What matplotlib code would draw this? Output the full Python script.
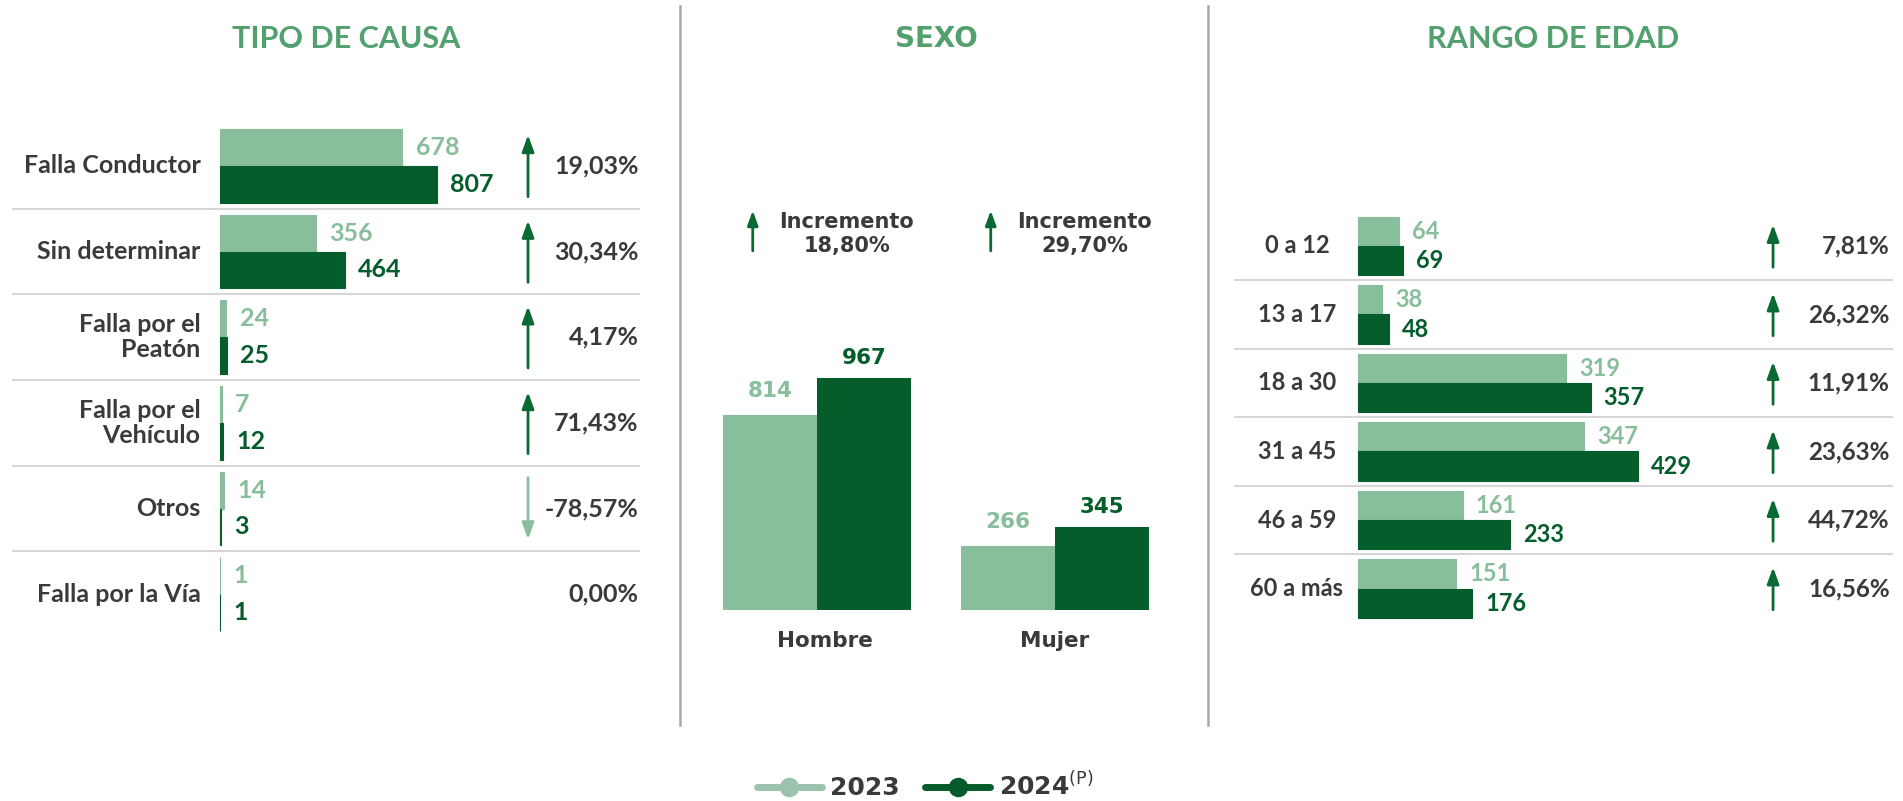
import matplotlib
matplotlib.use("Agg")
import matplotlib.pyplot as plt
import matplotlib.transforms as mtransforms
from matplotlib.lines import Line2D
import numpy as np

# ---- data ----
causa_labels = ["Falla Conductor", "Sin determinar", "Falla por el\nPeatón",
                "Falla por el\nVehículo", "Otros", "Falla por la Vía"]
causa_2023 = [678, 356, 24, 7, 14, 1]
causa_2024 = [807, 464, 25, 12, 3, 1]

sexo_labels = ["Hombre", "Mujer"]
sexo_2023 = [814, 266]
sexo_2024 = [967, 345]

edad_labels = ["0 a 12", "13 a 17", "18 a 30", "31 a 45", "46 a 59", "60 a más"]
edad_2023 = [64, 38, 319, 347, 161, 151]
edad_2024 = [69, 48, 357, 429, 233, 176]

series_names = ["2023", "2024$^{\\mathrm{(P)}}$"]
panel_titles = ["TIPO DE CAUSA", "SEXO", "RANGO DE EDAD"]

# ---- style ----
LIGHT = "#89be9c"
DARK = "#055d2c"
ARROW = "#0b6a33"
TITLE = "#52a06e"
GREY = "#3a3a3a"
SEP = "#d6d6d6"
PANEL_SEP = "#a9a9a9"

plt.rcParams["font.family"] = ["Lato", "DejaVu Sans"]

W, H = 1903, 801
fig = plt.figure(figsize=(W / 100, H / 100), dpi=100)


def box(x0, y0, x1, y1):
    # pixel box measured from top-left -> figure fraction rect
    return [x0 / W, 1 - y1 / H, (x1 - x0) / W, (y1 - y0) / H]


def pct(a, b):
    return (b - a) / a * 100


def fmt_pct(v):
    return f"{v:.2f}%".replace(".", ",")


def up_down_arrow(ax, trans, x, yc, half, p, scale=18, flipped=True):
    # flipped=True when the y axis grows downwards
    if p == 0:
        return
    s = -1 if flipped else 1
    if p > 0:
        tip, tail, col = yc + s * half, yc - s * half, ARROW
    else:
        tip, tail, col = yc - s * half, yc + s * half, LIGHT
    ax.annotate("", xy=(x, tip), xytext=(x, tail), xycoords=trans, textcoords=trans,
                arrowprops=dict(arrowstyle="-|>,head_length=0.55,head_width=0.2",
                                color=col, lw=2.0, shrinkA=0, shrinkB=0,
                                mutation_scale=scale))


def hbar_panel(rect, xlim, labels, v23, v24, lab_off, lab_ha, fs_lab, fs_val, fs_pct,
               arrow_x, arrow_half, pct_x):
    ax = fig.add_axes(rect)
    n = len(labels)
    y = np.arange(n)
    h = 0.43
    ax.barh(y - h / 2, v23, height=h, color=LIGHT, edgecolor=LIGHT, lw=0.8)
    ax.barh(y + h / 2, v24, height=h, color=DARK, edgecolor=DARK, lw=0.8)
    ax.set_xlim(*xlim)
    ax.set_ylim(n - 0.5, -0.5)
    ax.axis("off")
    for i in range(n - 1):
        ax.axhline(i + 0.5, color=SEP, lw=1.5)
    trans = mtransforms.blended_transform_factory(ax.transAxes, ax.transData)
    for i in range(n):
        ax.annotate(labels[i], (0, i), xytext=(lab_off, 0), textcoords="offset points",
                    ha=lab_ha, va="center", fontsize=fs_lab, color=GREY,
                    weight="bold", linespacing=1.1)
        ax.annotate(str(v23[i]), (v23[i], i - h / 2), xytext=(9.5, 0),
                    textcoords="offset points", ha="left", va="center",
                    fontsize=fs_val, color=LIGHT, weight="bold")
        ax.annotate(str(v24[i]), (v24[i], i + h / 2), xytext=(9.5, 0),
                    textcoords="offset points", ha="left", va="center",
                    fontsize=fs_val, color=DARK, weight="bold")
        p = pct(v23[i], v24[i])
        up_down_arrow(ax, trans, arrow_x, i, arrow_half, p)
        ax.text(pct_x, i, fmt_pct(p), transform=trans, ha="right", va="center",
                fontsize=fs_pct, color=GREY, weight="bold")
    return ax


# panel 1: tipo de causa
k1 = 217 / 807
hbar_panel(box(12, 123, 640, 637), (-(220 - 12) / k1, (640 - 220) / k1),
           causa_labels, causa_2023, causa_2024, -14, "right", 18, 18, 18,
           0.8217, 0.36, 0.998)

# panel 3: rango de edad
k3 = 280 / 429
hbar_panel(box(1234, 211.75, 1893, 622.75), (-(1357.5 - 1234) / k3, (1893 - 1357.5) / k3),
           edad_labels, edad_2023, edad_2024, -43.6, "center", 17, 17, 17.5,
           0.818, 0.31, 0.995)

# panel 2: sexo
k2 = 231.5 / 967
ax2 = fig.add_axes(box(697, 190, 1175, 609.5))
x = np.arange(len(sexo_labels))
w = 0.397
ax2.bar(x - w / 2, sexo_2023, width=w, color=LIGHT)
ax2.bar(x + w / 2, sexo_2024, width=w, color=DARK)
ax2.set_xlim(-0.5042, 1.5042)
ax2.set_ylim(0, (609.5 - 190) / k2)
ax2.axis("off")
gfont = dict(family="DejaVu Sans", weight="bold")
trans2 = mtransforms.blended_transform_factory(ax2.transData, ax2.transAxes)
for i in range(len(sexo_labels)):
    ax2.annotate(str(sexo_2023[i]), (x[i] - w / 2, sexo_2023[i]), xytext=(0, 17),
                 textcoords="offset points", ha="center", va="center", fontsize=15.5,
                 color=LIGHT, **gfont)
    ax2.annotate(str(sexo_2024[i]), (x[i] + w / 2, sexo_2024[i]), xytext=(0, 14.5),
                 textcoords="offset points", ha="center", va="center", fontsize=15.5,
                 color=DARK, **gfont)
    ax2.annotate(sexo_labels[i], (x[i], 0), xytext=(6 if i == 0 else 0, -22.7),
                 textcoords="offset points", ha="center", va="center", fontsize=15.5,
                 color=GREY, **gfont)
    p = pct(sexo_2023[i], sexo_2024[i])
    up_down_arrow(ax2, trans2, x[i] - 0.27, 0.903, 0.048, p, scale=16, flipped=False)
    ax2.text(x[i] + 0.125, 0.895, "Incremento\n" + fmt_pct(p), transform=trans2,
             ha="center", va="center", fontsize=15, color=GREY, linespacing=1.2,
             **gfont)

# titles
fig.text(346 / W, 1 - 39 / H, panel_titles[0], ha="center", va="center",
         fontsize=22, weight="bold", color=TITLE)
fig.text(936 / W, 1 - 39 / H, panel_titles[1], ha="center", va="center",
         fontsize=20, color=TITLE, **gfont)
fig.text(1553 / W, 1 - 39 / H, panel_titles[2], ha="center", va="center",
         fontsize=22, weight="bold", color=TITLE)

# panel dividers
for xp in (680, 1208):
    fig.add_artist(Line2D([xp / W, xp / W], [1 - 6 / H, 1 - 725 / H],
                          transform=fig.transFigure, color=PANEL_SEP, lw=1.8))

# legend
handles = [Line2D([], [], color="#9cc3ae", lw=5, marker="o", ms=13, solid_capstyle="round"),
           Line2D([], [], color="#065a2c", lw=5, marker="o", ms=13, solid_capstyle="round")]
fig.legend(handles, series_names, loc="center", bbox_to_anchor=(925 / W, 1 - 786 / H),
           ncol=2, frameon=False, handlelength=2.6, handletextpad=0.35, columnspacing=1.0,
           prop=dict(family="DejaVu Sans", weight="bold", size=18), labelcolor=GREY)

fig.savefig("out.png", dpi=100)
